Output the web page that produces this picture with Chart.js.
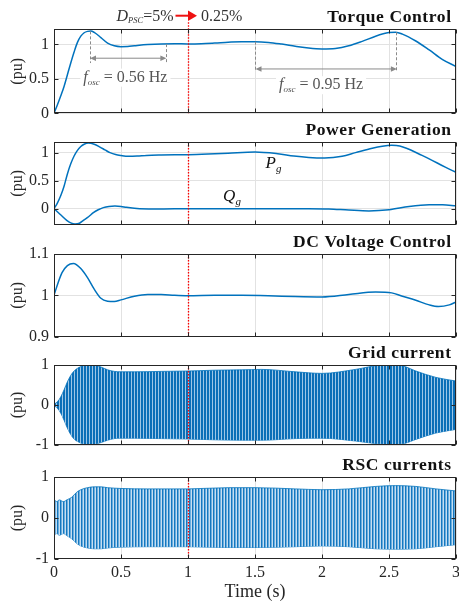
<!DOCTYPE html>
<html><head><meta charset="utf-8">
<script src="https://cdn.jsdelivr.net/npm/chart.js@4.4.1/dist/chart.umd.min.js"></script>
<style>
html,body{margin:0;padding:0;background:#fff;width:459px;height:607px;overflow:hidden}
#wrap{position:relative;width:459px;height:607px}
canvas{position:absolute;left:0}
</style></head><body>
<div id="wrap"></div>
<script>
// ================= DATA =================
const xTicks = [0, 0.5, 1, 1.5, 2, 2.5, 3];
const xTickLabels = ['0', '0.5', '1', '1.5', '2', '2.5', '3'];

// Torque control (pu)
const tTorque = [0,0.025,0.05,0.075,0.1,0.125,0.15,0.175,0.2,0.225,0.25,0.275,0.3,0.35,0.4,0.45,0.5,0.55,0.6,0.7,0.8,0.9,1.0,1.1,1.2,1.3,1.4,1.5,1.6,1.7,1.8,1.9,2.0,2.1,2.2,2.3,2.4,2.5,2.55,2.6,2.7,2.8,2.9,3.0];
const torque  = [0,0.12,0.25,0.39,0.56,0.73,0.89,1.03,1.12,1.17,1.19,1.195,1.175,1.10,1.02,0.98,0.968,0.97,0.98,0.998,1.008,1.01,1.007,1.01,1.02,1.032,1.04,1.04,1.03,1.005,0.975,0.948,0.935,0.942,0.98,1.045,1.12,1.172,1.178,1.15,1.05,0.92,0.78,0.68];

// Power generation (pu)
const tPg = [0,0.025,0.05,0.075,0.1,0.125,0.15,0.175,0.2,0.225,0.256,0.3,0.343,0.38,0.418,0.46,0.5,0.555,0.62,0.69,0.8,0.9,1.0,1.15,1.3,1.5,1.67,1.79,1.9,2.02,2.15,2.25,2.375,2.45,2.52,2.58,2.64,2.72,2.8,2.92,3.0];
const pG  = [0,0.1,0.23,0.4,0.62,0.8,0.94,1.04,1.11,1.15,1.17,1.15,1.10,1.05,1.0,0.965,0.948,0.934,0.938,0.95,0.958,0.962,0.964,0.975,0.99,1.01,0.98,0.94,0.915,0.905,0.935,1.0,1.08,1.115,1.13,1.12,1.07,0.98,0.89,0.74,0.65];
const tQg = [0,0.045,0.095,0.125,0.157,0.19,0.219,0.26,0.294,0.33,0.368,0.41,0.455,0.5,0.54,0.6,0.64,0.8,1.0,1.3,1.6,1.9,2.05,2.2,2.35,2.5,2.65,2.8,2.9,3.0];
const qG  = [0,-0.10,-0.21,-0.255,-0.275,-0.26,-0.21,-0.14,-0.07,-0.02,0.018,0.04,0.046,0.04,0.023,0.006,0,-0.005,0,0,0,0,-0.005,-0.025,-0.04,-0.02,0.04,0.07,0.07,0.05];

// DC voltage (pu)
const tDC = [0,0.03,0.06,0.1,0.145,0.2,0.25,0.3,0.35,0.4,0.45,0.5,0.6,0.7,0.8,0.9,1.0,1.2,1.4,1.6,1.8,2.0,2.2,2.4,2.52,2.6,2.7,2.8,2.87,2.95,3.0];
const vDC = [1.0,1.03,1.055,1.072,1.077,1.065,1.043,1.015,0.993,0.986,0.985,0.989,0.998,1.002,1.002,1.0,0.999,1.0,1.0,0.999,0.997,0.996,1.002,1.008,1.006,0.998,0.988,0.977,0.973,0.977,0.984];

// Grid current envelope (pu)
const tGrid = [0,0.025,0.05,0.075,0.1,0.125,0.15,0.2,0.25,0.3,0.35,0.4,0.45,0.5,0.6,0.8,1.0,1.2,1.4,1.55,1.8,2.0,2.25,2.42,2.52,2.6,2.7,2.85,3.0];
const gridUpper = [0.02,0.08,0.2,0.38,0.58,0.74,0.85,0.96,1.0,1.0,0.95,0.88,0.84,0.83,0.83,0.84,0.85,0.87,0.88,0.89,0.83,0.79,0.89,0.99,1.0,0.98,0.85,0.69,0.6];
const gridLower = [-0.02,-0.08,-0.2,-0.38,-0.58,-0.74,-0.85,-0.95,-0.99,-0.98,-0.94,-0.88,-0.84,-0.83,-0.83,-0.84,-0.85,-0.87,-0.88,-0.88,-0.84,-0.83,-0.9,-0.97,-0.98,-0.97,-0.86,-0.7,-0.61];

// RSC currents envelope (pu)
const tRSC = [0,0.02,0.04,0.07,0.1,0.13,0.17,0.2,0.25,0.3,0.35,0.4,0.5,0.7,1.0,1.3,1.5,1.8,2.0,2.2,2.4,2.55,2.7,2.85,3.0];
const rscUpper = [0.45,0.4,0.44,0.4,0.45,0.5,0.63,0.69,0.74,0.76,0.76,0.74,0.72,0.71,0.71,0.74,0.74,0.71,0.69,0.71,0.77,0.79,0.77,0.71,0.66];
const rscLower = [-0.42,-0.38,-0.42,-0.38,-0.44,-0.5,-0.62,-0.68,-0.73,-0.75,-0.75,-0.73,-0.71,-0.7,-0.7,-0.72,-0.72,-0.7,-0.68,-0.7,-0.75,-0.76,-0.75,-0.7,-0.65];

// Axis ticks
const yTicks1 = [0, 0.5, 1],  yLabels1 = ['0', '0.5', '1'];
const yTicks2 = [0, 0.5, 1],  yLabels2 = ['0', '0.5', '1'];
const yTicks3 = [0.9, 1, 1.1], yLabels3 = ['0.9', '1', '1.1'];
const yTicks4 = [-1, 0, 1],   yLabels4 = ['-1', '0', '1'];
const yTicks5 = [-1, 0, 1],   yLabels5 = ['-1', '0', '1'];

const titles = ['Torque Control', 'Power Generation', 'DC Voltage Control', 'Grid current', 'RSC currents'];
const switchTime = 1;           // D_PSC switch instant (s)
const oscLabels = ['0.56 Hz', '0.95 Hz'];

// ================= STYLE / LAYOUT =================
const SERIF = "'Liberation Serif','Times New Roman',serif";
const BLUE = '#0072BD';
const AXC = '#262626';
const GRID = '#e2e2e2';
const W = 459;

const panels = [
  {top: 29.3, bottom: 113.3, ext: 6, min: 0, max: 1.22, ticks: yTicks1, labels: yLabels1},
  {top: 141.7, bottom: 224.3, ext: 6, min: -0.285, max: 1.19, ticks: yTicks2, labels: yLabels2},
  {top: 254, bottom: 336.7, ext: 6, min: 0.9, max: 1.1, ticks: yTicks3, labels: yLabels3},
  {top: 365, bottom: 445, ext: 6, min: -1, max: 1, ticks: yTicks4, labels: yLabels4},
  {top: 477.3, bottom: 559.3, ext: 47.7, min: -1, max: 1, ticks: yTicks5, labels: yLabels5}
];

function pts(t, v) { return t.map((x, i) => ({x: x, y: v[i]})); }

function stripePattern(cols) {
  const c = document.createElement('canvas');
  c.width = cols.length; c.height = 1;
  const g = c.getContext('2d');
  cols.forEach((col, i) => { g.fillStyle = col; g.fillRect(i, 0, 1, 1); });
  return g.createPattern(c, 'repeat');
}
const gridPat = stripePattern(['#0b6db5', '#0a70ba', '#9cc6e6']);
const rscPat = stripePattern(['#1577bf', '#6aaede', '#c6def1']);

function lineDs(data) {
  return {data: data, borderColor: BLUE, borderWidth: 1.5, pointRadius: 0, tension: 0.4, cubicInterpolationMode: 'monotone', fill: false};
}
function envDs(upper, lower, pat) {
  return [
    {data: upper, borderColor: BLUE, borderWidth: 0.8, pointRadius: 0, cubicInterpolationMode: 'monotone', fill: '+1', backgroundColor: pat},
    {data: lower, borderColor: BLUE, borderWidth: 0.8, pointRadius: 0, cubicInterpolationMode: 'monotone', fill: false}
  ];
}

const datasets = [
  [lineDs(pts(tTorque, torque))],
  [lineDs(pts(tPg, pG)), lineDs(pts(tQg, qG))],
  [lineDs(pts(tDC, vDC))],
  envDs(pts(tGrid, gridUpper), pts(tGrid, gridLower), gridPat),
  envDs(pts(tRSC, rscUpper), pts(tRSC, rscLower), rscPat)
];

// ---------- text helpers ----------
function runsWidth(ctx, runs) {
  let w = 0;
  for (const r of runs) { ctx.font = r.font; w += ctx.measureText(r.t).width; }
  return w;
}
function drawRuns(ctx, x, y, runs, color) {
  ctx.save();
  ctx.fillStyle = color; ctx.textAlign = 'left'; ctx.textBaseline = 'alphabetic';
  let cx = x;
  for (const r of runs) { ctx.font = r.font; ctx.fillText(r.t, cx, y + (r.dy || 0)); cx += ctx.measureText(r.t).width; }
  ctx.restore();
  return cx - x;
}
function arrowHead(ctx, x, y, dir, len, half) {
  ctx.beginPath();
  ctx.moveTo(x, y);
  ctx.lineTo(x - dir * len, y - half);
  ctx.lineTo(x - dir * len, y + half);
  ctx.closePath(); ctx.fill();
}

// frequency annotation (data coordinates)
const oscAnnotations = [
  {tA: 0.265, yA: 1.19, tB: 0.835, yB: 1.005, yArrow: 0.80, yEnd: 0.73, tText: 0.219, yText: 0.46, label: oscLabels[0]},
  {tA: 1.5, yA: 1.04, tB: 2.555, yB: 1.177, yArrow: 0.644, yEnd: 0.605, tText: 1.679, yText: 0.35, label: oscLabels[1]}
];

function drawOsc(ctx, xs, ys, a) {
  const xA = xs.getPixelForValue(a.tA), xB = xs.getPixelForValue(a.tB);
  const yEnd = ys.getPixelForValue(a.yEnd), yAr = ys.getPixelForValue(a.yArrow);
  ctx.save();
  ctx.strokeStyle = '#8a8a8a'; ctx.fillStyle = '#8a8a8a'; ctx.lineWidth = 1;
  ctx.setLineDash([3, 2]);
  ctx.beginPath();
  ctx.moveTo(Math.round(xA) + 0.5, ys.getPixelForValue(a.yA)); ctx.lineTo(Math.round(xA) + 0.5, yEnd);
  ctx.moveTo(Math.round(xB) + 0.5, ys.getPixelForValue(a.yB)); ctx.lineTo(Math.round(xB) + 0.5, yEnd);
  ctx.stroke();
  ctx.setLineDash([]);
  ctx.beginPath(); ctx.moveTo(xA + 4, yAr); ctx.lineTo(xB - 4, yAr); ctx.stroke();
  arrowHead(ctx, xA + 0.5, yAr, -1, 6, 2.8);
  arrowHead(ctx, xB + 0.5, yAr, 1, 6, 2.8);
  // label with white background
  const runs = [
    {t: 'f', font: 'italic 16px ' + SERIF},
    {t: 'osc', font: 'italic 9px ' + SERIF, dy: 3},
    {t: ' = ' + a.label, font: '16px ' + SERIF}
  ];
  const tx = xs.getPixelForValue(a.tText), ty = ys.getPixelForValue(a.yText);
  const w = runsWidth(ctx, runs);
  ctx.fillStyle = '#ffffff';
  ctx.fillRect(tx - 3, ty - 13, w + 6, 18);
  drawRuns(ctx, tx, ty, runs, '#555555');
  ctx.restore();
}

function decoPanel(i, chart) {
  const ctx = chart.ctx, ca = chart.chartArea;
  const xs = chart.scales.x, ys = chart.scales.y;
  if (i === 0) {
    oscAnnotations.forEach(a => drawOsc(ctx, xs, ys, a));
    // D_PSC = 5% -> 0.25%
    const px = xs.getPixelForValue(switchTime);
    const base = ca.top - 8.6;
    const runs = [
      {t: 'D', font: 'italic 16px ' + SERIF},
      {t: 'PSC', font: 'italic 8.5px ' + SERIF, dy: 2.5},
      {t: '=5%', font: '16px ' + SERIF}
    ];
    const w = runsWidth(ctx, runs);
    drawRuns(ctx, px - 14.5 - w, base, runs, '#333333');
    ctx.save();
    ctx.strokeStyle = '#ee1111'; ctx.fillStyle = '#ee1111'; ctx.lineWidth = 2;
    const ay = ca.top - 13.6;
    ctx.beginPath(); ctx.moveTo(px - 12.5, ay); ctx.lineTo(px + 1, ay); ctx.stroke();
    arrowHead(ctx, px + 9, ay, 1, 9, 5.2);
    ctx.restore();
    drawRuns(ctx, px + 13, base, [{t: '0.25%', font: '16px ' + SERIF}], '#333333');
  }
  if (i === 1) {
    drawRuns(ctx, xs.getPixelForValue(1.579), ys.getPixelForValue(0.72), [
      {t: 'P', font: 'italic 17px ' + SERIF}, {t: 'g', font: 'italic 11px ' + SERIF, dy: 3.5}], '#111111');
    drawRuns(ctx, xs.getPixelForValue(1.262), ys.getPixelForValue(0.13), [
      {t: 'Q', font: 'italic 17px ' + SERIF}, {t: 'g', font: 'italic 11px ' + SERIF, dy: 3.5}], '#111111');
  }
  if (i === 4) {
    ctx.save();
    ctx.font = '18px ' + SERIF; ctx.fillStyle = AXC; ctx.textAlign = 'center'; ctx.textBaseline = 'alphabetic';
    ctx.fillText('Time (s)', (ca.left + ca.right) / 2, ca.bottom + 38);
    ctx.restore();
  }
}

const decoPlugin = {
  id: 'deco',
  afterDatasetsDraw(chart, args, opts) {
    const ctx = chart.ctx, ca = chart.chartArea;
    const xs = chart.scales.x, ys = chart.scales.y;
    const i = opts.index;
    // red dotted switch line
    const px = Math.round(xs.getPixelForValue(switchTime)) + 0.5;
    ctx.save();
    ctx.strokeStyle = '#ff0000'; ctx.lineWidth = 1.3; ctx.setLineDash([1.5, 1.5]);
    ctx.beginPath(); ctx.moveTo(px, i === 0 ? ca.top - 7 : ca.top); ctx.lineTo(px, ca.bottom); ctx.stroke();
    ctx.restore();
    // box
    ctx.save();
    ctx.strokeStyle = AXC; ctx.lineWidth = 1;
    const L = Math.round(ca.left) + 0.5, R = Math.round(ca.right) - 0.5;
    const T = Math.round(ca.top) + 0.5, B = Math.round(ca.bottom) - 0.5;
    ctx.strokeRect(L, T, R - L, B - T);
    // inward ticks
    ctx.beginPath();
    xs.ticks.forEach(tk => {
      const x = Math.round(xs.getPixelForValue(tk.value)) + 0.5;
      ctx.moveTo(x, B); ctx.lineTo(x, B - 4);
      ctx.moveTo(x, T); ctx.lineTo(x, T + 4);
    });
    ys.ticks.forEach(tk => {
      const y = Math.round(ys.getPixelForValue(tk.value)) + 0.5;
      ctx.moveTo(L, y); ctx.lineTo(L + 4, y);
      ctx.moveTo(R, y); ctx.lineTo(R - 4, y);
    });
    ctx.stroke();
    ctx.restore();
    // y label
    ctx.save();
    ctx.translate(18, (ca.top + ca.bottom) / 2);
    ctx.rotate(-Math.PI / 2);
    ctx.font = '16px ' + SERIF; ctx.fillStyle = AXC; ctx.textAlign = 'center'; ctx.textBaseline = 'middle';
    ctx.fillText('(pu)', 0, 0);
    ctx.restore();
    // title
    ctx.save();
    ctx.font = 'bold 17.5px ' + SERIF; ctx.fillStyle = '#111111'; ctx.textAlign = 'right'; ctx.textBaseline = 'alphabetic';
    try { ctx.letterSpacing = '0.6px'; } catch (e) {}
    ctx.fillText(titles[i], 451.6, ca.top - 7.5);
    ctx.restore();
    decoPanel(i, chart);
  }
};

const wrap = document.getElementById('wrap');
panels.forEach((p, i) => {
  const y0 = Math.max(0, p.top - 30);
  const H = Math.round(p.bottom + p.ext - y0);
  const padTop = p.top - y0;
  const extB = H - (p.bottom - y0);
  const cv = document.createElement('canvas');
  cv.width = W; cv.height = H;
  cv.style.width = W + 'px'; cv.style.height = H + 'px'; cv.style.top = y0 + 'px';
  wrap.appendChild(cv);
  const last = i === panels.length - 1;
  new Chart(cv, {
    type: 'line',
    data: {datasets: datasets[i]},
    options: {
      responsive: false, animation: false, devicePixelRatio: 1,
      layout: {padding: {top: padTop, left: 0, right: 3, bottom: 0}},
      plugins: {legend: {display: false}, tooltip: {enabled: false}, title: {display: false}, deco: {index: i}},
      scales: {
        x: {
          type: 'linear', position: 'bottom', min: 0, max: 3,
          afterBuildTicks: s => { s.ticks = xTicks.map(v => ({value: v})); },
          afterFit: s => { s.height = extB; s.paddingLeft = 0; s.paddingRight = 0; },
          grid: {color: GRID, drawTicks: false, lineWidth: 1},
          border: {display: false},
          ticks: {display: last, autoSkip: false, maxRotation: 0, padding: 4, color: AXC,
                  font: {family: SERIF, size: 16}, callback: (v, k) => xTickLabels[k]}
        },
        y: {
          type: 'linear', position: 'left', min: p.min, max: p.max,
          afterBuildTicks: s => { s.ticks = p.ticks.map(v => ({value: v})); },
          afterFit: s => { s.width = 54; s.paddingTop = 0; s.paddingBottom = 0; },
          grid: {color: GRID, drawTicks: false, lineWidth: 1},
          border: {display: false},
          ticks: {padding: 5, color: AXC, font: {family: SERIF, size: 16}, callback: (v, k) => p.labels[k]}
        }
      }
    },
    plugins: [decoPlugin]
  });
});
</script>
</body></html>
